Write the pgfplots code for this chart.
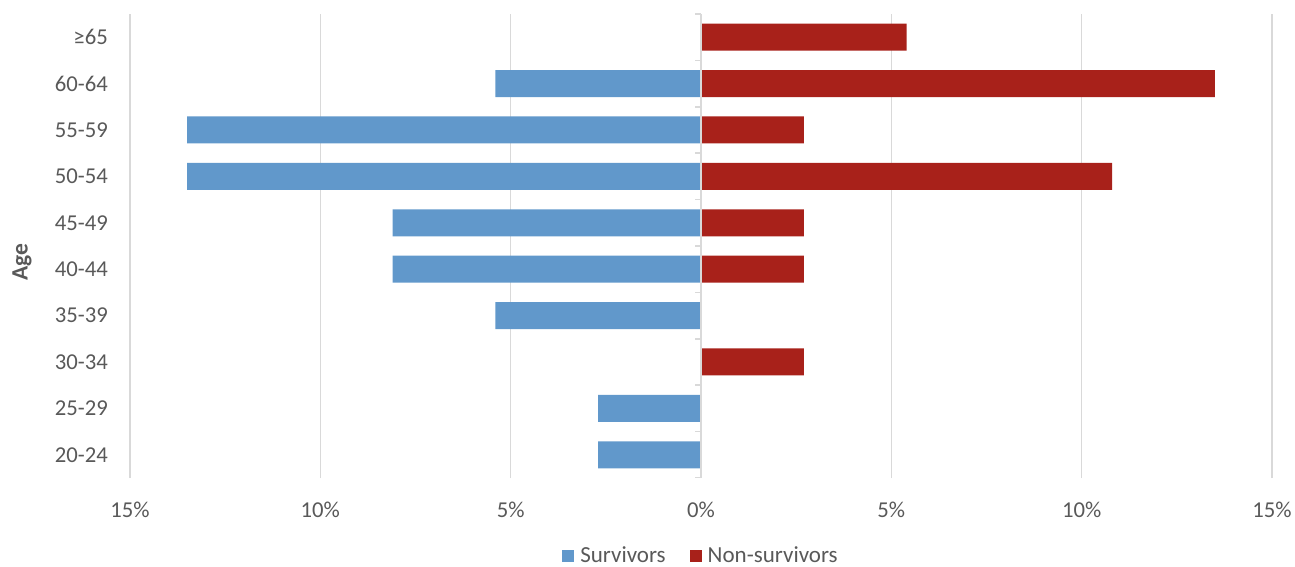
\documentclass[border=0pt]{standalone}
\usepackage{pgfplots}
\pgfplotsset{compat=1.18}
\usepackage{fontspec}
\setmainfont{Carlito}
\definecolor{surv}{HTML}{6198CB}
\definecolor{nonsurv}{HTML}{A8211A}
\definecolor{txt}{HTML}{595959}
\definecolor{grd}{HTML}{D9D9D9}
\begin{document}
\begin{tikzpicture}
\useasboundingbox (0,0) rectangle (1295bp,567bp);
\fontsize{22.7bp}{27bp}\selectfont
\begin{axis}[
  at={(130bp,89bp)}, anchor=south west,
  scale only axis, width=1142bp, height=464bp,
  xbar, bar width=27bp, bar shift=0pt,
  xmin=-15, xmax=15, ymin=-0.5, ymax=9.5,
  xtick={-15,-10,-5,0,5,10,15},
  xticklabels={15\%,10\%,5\%,0\%,5\%,10\%,15\%},
  ytick={0,...,9},
  yticklabels={20-24,25-29,30-34,35-39,40-44,45-49,50-54,55-59,60-64,≥65},
  xmajorgrids, grid style={grd, line width=1.5bp},
  axis line style={draw=none},
  major tick length=0pt,
  tick style={draw=none},
  every tick label/.style={font=\fontsize{22.7bp}{27bp}\selectfont, text=txt},
  xticklabel style={anchor=base, inner sep=0pt, yshift=-39.5bp},
  yticklabel style={anchor=east, inner sep=0pt, xshift=-22bp},
  ylabel={Age},
  ylabel style={at={(axis description cs:-0.0945,0.4655)}, anchor=center, font=\fontsize{23.5bp}{27bp}\selectfont\bfseries, text=txt},
  legend columns=2,
  legend style={at={(axis description cs:0.5,-0.169)}, anchor=center, draw=none, fill=none,
    font=\fontsize{23bp}{27bp}\selectfont, text=txt, inner sep=0pt,
    /tikz/every even column/.append style={column sep=22bp}},
  legend image code/.code={\fill[#1] (0bp,-6bp) rectangle (12bp,6bp); \path (16bp,0);},
]
\addplot[fill=surv, draw=none] coordinates {
(-2.7,0) (-2.7,1) (0,2) (-5.4,3) (-8.1,4) (-8.1,5) (-13.5,6) (-13.5,7) (-5.4,8) (0,9)};
\addlegendentry{Survivors}
\addplot[fill=nonsurv, draw=none] coordinates {
(0,0) (0,1) (2.7,2) (0,3) (2.7,4) (2.7,5) (10.8,6) (2.7,7) (13.5,8) (5.4,9)};
\addlegendentry{Non-survivors}
\draw[grd, line width=1.5bp] (axis cs:0,-0.5) -- (axis cs:0,9.5);
\pgfplotsinvokeforeach{-0.5,0.5,...,9.5}{
  \draw[grd, line width=1.5bp] (axis cs:0,#1) -- ([xshift=-6bp]axis cs:0,#1);
}
\end{axis}
\end{tikzpicture}
\end{document}
